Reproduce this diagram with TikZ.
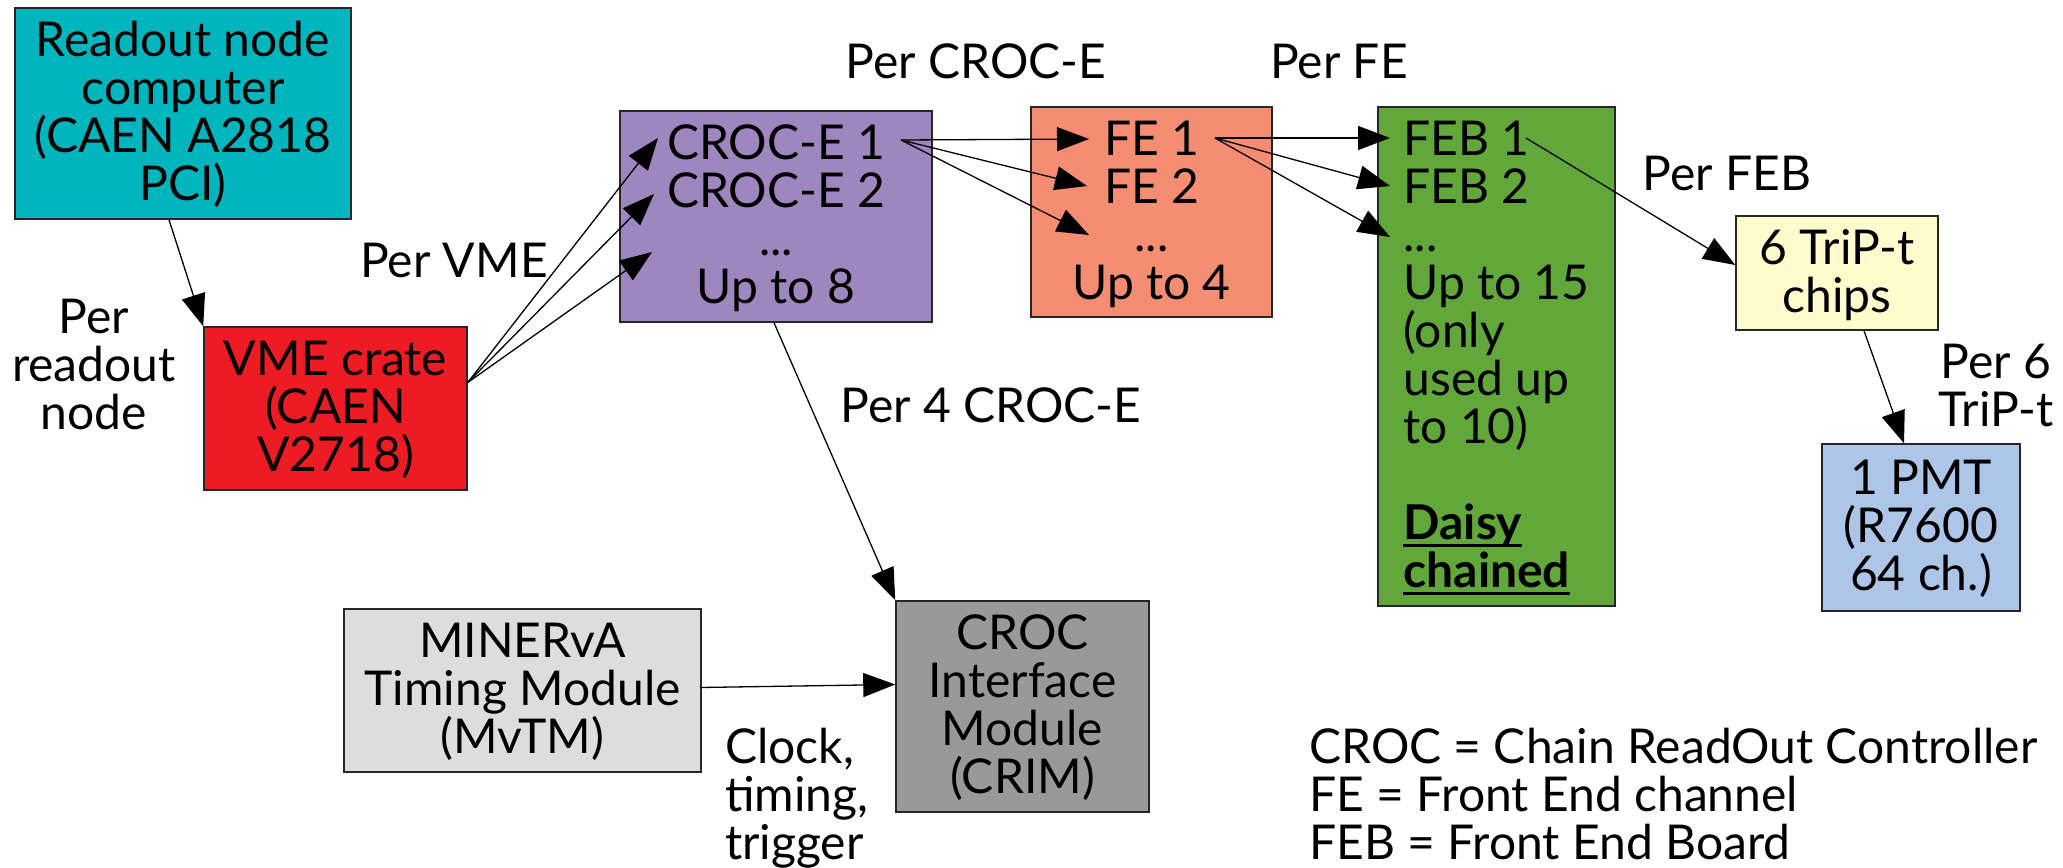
\documentclass[tikz,border=0pt]{standalone}
\usepackage{fontspec}
\setmainfont{Lato}
\usetikzlibrary{arrows.meta,calc}

\definecolor{cteal}{HTML}{00B5BD}
\definecolor{cred}{HTML}{ED1C24}
\definecolor{cpurple}{HTML}{9E86BE}
\definecolor{csalmon}{HTML}{F58D72}
\definecolor{cgreen}{HTML}{62A73A}
\definecolor{cyellow}{HTML}{FFFBCC}
\definecolor{cblue}{HTML}{ADC5E7}
\definecolor{clgray}{HTML}{DDDDDD}
\definecolor{cdgray}{HTML}{999999}

% line strut: fixes ascent/descent of a text line to the 48pt line pitch
\newcommand\lst{\rule[-9pt]{0pt}{48pt}}
% bold underline with a heavier rule
\newlength\dcw
\newcommand\dcul[1]{\settowidth\dcw{#1}\rlap{\rule[-7pt]{\dcw}{2.5pt}}#1}
\newcommand\bigfont{\fontsize{48}{48}\selectfont\lineskiplimit=-48pt\relax}

\begin{document}
\begin{tikzpicture}[x=1pt,y=-1pt,
  every node/.style={font=\bigfont, inner sep=0pt},
  box/.style={draw=black!85, line width=1.5pt, align=center},
  lbl/.style={align=center, anchor=north},
  lbll/.style={align=left, anchor=north west},
  conn/.style={line width=1.3pt, -{Triangle[length=32pt,width=24pt]}}]

\useasboundingbox (0,0) rectangle (2063,867);

% ---- boxes
\node[box, fill=cteal, minimum width=336pt, minimum height=211pt] (readout) at (183,113.5)
  {\lst Readout node\\computer\\(CAEN A2818\\PCI)\lst};
\node[box, fill=cred, minimum width=263pt, minimum height=163pt] (vme) at (335.5,408.5)
  {\lst VME crate\\(CAEN\\V2718)\lst};
\node[box, fill=cpurple, minimum width=312pt, minimum height=211pt] (croc) at (776,216.5)
  {\lst CROC-E 1\\CROC-E 2\\...\\Up to 8\lst};
\node[box, fill=csalmon, minimum width=241pt, minimum height=210pt] (fe) at (1151.5,212)
  {\lst FE 1\\FE 2\\...\\Up to 4\lst};
\node[box, fill=cgreen, align=left, minimum width=237pt, minimum height=499pt] (feb) at (1496.5,356.5)
  {\lst FEB 1\\FEB 2\\...\\Up to 15\hspace*{8pt}\\(only\\used up\\to 10)\\[48pt]\textbf{\dcul{Daisy}}\\\textbf{\dcul{chained}}\lst};
\node[box, fill=cyellow, minimum width=202pt, minimum height=114pt] (trip) at (1837,273)
  {\lst 6 TriP-t\\chips\lst};
\node[box, fill=cblue, minimum width=198pt, minimum height=167pt] (pmt) at (1921,527.5)
  {\lst 1 PMT\\(R7600\\64 ch.)\lst};
\node[box, fill=clgray, minimum width=357pt, minimum height=163pt] (mvtm) at (522.5,690.5)
  {\lst MINERvA\\Timing Module\\(MvTM)\lst};
\node[box, fill=cdgray, minimum width=253pt, minimum height=211pt] (crim) at (1022.5,706.5)
  {\lst CROC\\Interface\\Module\\(CRIM)\lst};

% ---- labels
\node[lbl] (lcroc) at (976,39) {\lst Per CROC-E\lst};
\node[lbl] (lfe) at (1339,39) {\lst Per FE\lst};
\node[lbl] (lvme) at (454,238) {\lst Per VME\lst};
\node[lbl] (lread) at (94,294) {\lst Per\\readout\\node\lst};
\node[lbl] (lfour) at (991,383.5) {\lst Per 4 CROC-E\lst};
\node[lbl] (lfeb) at (1727,151) {\lst Per FEB\lst};
\node[lbl] (lsix) at (1996,339) {\lst Per 6\\TriP-t\lst};
\node[lbll] (lclk) at (725,724) {\lst Clock,\\timing,\\trigger\lst};
\node[lbll] (legend) at (1309,724)
  {\lst CROC = Chain ReadOut Controller\\FE = Front End channel\\FEB = Front End Board\lst};

% ---- connector end points inside the boxes
\coordinate (vmeout) at ($(vme.east)+(0,-26)$);
\coordinate (c1in) at (658,138);
\coordinate (c2in) at (654,194);
\coordinate (c3in) at (652,252);
\coordinate (c1out) at (901,140);
\coordinate (f1in) at (1089,139);
\coordinate (f2in) at (1087,186);
\coordinate (f3in) at (1089,235);
\coordinate (f1out) at (1215,138);
\coordinate (g1in) at (1390,138);
\coordinate (g2in) at (1390,186);
\coordinate (g3in) at (1390,237);
\coordinate (g1out) at (1526,138);
\coordinate (tripin) at ($(trip.west)+(0,-8)$);
\coordinate (tripout) at ($(trip.south)+(27,0)$);
\coordinate (pmtin) at ($(pmt.north)+(-17,0)$);
\coordinate (crimin) at ($(crim.west)+(0,-22)$);
\coordinate (mvtmout) at ($(mvtm.east)+(-2,-3)$);

% ---- connectors
\draw[conn] ([xshift=-14pt]readout.south) -- (vme.north west);
\draw[conn] (vmeout) -- (c1in);
\draw[conn] (vmeout) -- (c2in);
\draw[conn] (vmeout) -- (c3in);
\draw[conn] (c1out) -- (f1in);
\draw[conn] (c1out) -- (f2in);
\draw[conn] (c1out) -- (f3in);
\draw[conn] (f1out) -- (g1in);
\draw[conn] (f1out) -- (g2in);
\draw[conn] (f1out) -- (g3in);
\draw[conn] (g1out) -- (tripin);
\draw[conn] (tripout) -- (pmtin);
\draw[conn] ([xshift=-2pt]croc.south) -- (crim.north west);
\draw[conn] (mvtmout) -- (crimin);
\end{tikzpicture}
\end{document}
